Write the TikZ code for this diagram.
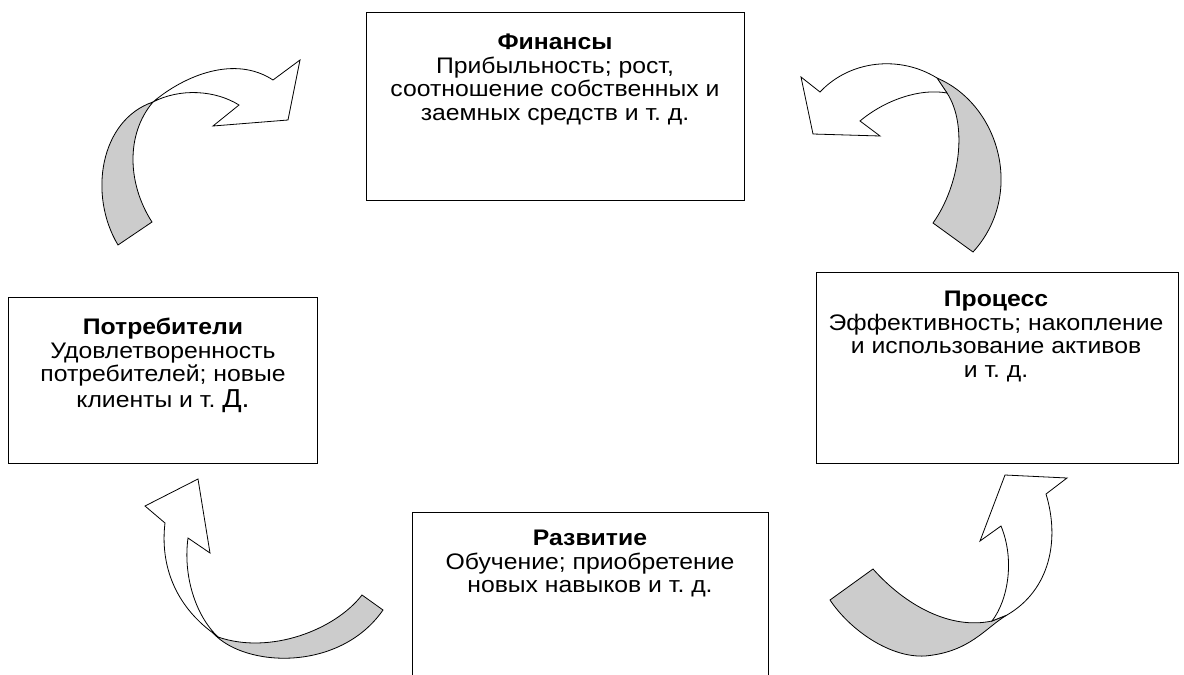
\documentclass[tikz,border=0pt]{standalone}
\usepackage{fontspec}
\setmainfont[FakeStretch=1.1]{Liberation Sans}
\definecolor{bandgray}{RGB}{204,204,204}
\frenchspacing
\begin{document}
\begin{tikzpicture}[x=1pt,y=-1pt,
  box/.style={draw, line width=1pt, fill=white, inner sep=0pt, anchor=north west},
  lbl/.style={font=\fontsize{22.5}{23.5}\selectfont, align=center, anchor=north, inner sep=0pt},
  band/.style={draw, line width=0.8pt, line join=miter, fill=#1},
]
\useasboundingbox (0,0) rectangle (1184,675);
\fill[white] (0,0) rectangle (1184,675);

% boxes
\node[box, minimum width=378pt, minimum height=188pt] (fin) at (366,12) {};
\node[box, minimum width=309pt, minimum height=166pt] (cons) at (8,297) {};
\node[box, minimum width=362pt, minimum height=191pt] (proc) at (816,272) {};
\node[box, minimum width=356pt, minimum height=200pt] (dev) at (412,512) {};

% texts
\node[lbl] (finT) at (555,34) {\textbf{Финансы}\\Прибыльность; рост,\\соотношение собственных и\\заемных средств и т. д.};
\node[lbl] (consT) at (163,318) {\textbf{Потребители}\\Удовлетворенность\\потребителей; новые\\[2pt]клиенты и т. {\fontsize{26}{24}\selectfont Д.}};
\node[lbl] (procT) at (996,291) {\textbf{Процесс}\\Эффективность; накопление\\и использование активов\\и т. д.};
\node[lbl] (devT) at (590,530) {\textbf{Развитие}\\Обучение; приобретение\\новых навыков и т. д.};

% arrow top-left
\draw[band=bandgray] (153,102) .. controls (100,120) and (88,195) .. (118,245) -- (152,222)
  .. controls (128,185) and (125,135) .. (153,102) -- cycle;
\draw[band=white] (153,102) .. controls (185,75) and (235,55) .. (273,80) -- (300,60) -- (288,120)
  -- (213,126) -- (239,105) .. controls (215,90) and (180,88) .. (153,102) -- cycle;

% arrow top-right
\draw[band=bandgray] (937,78) .. controls (1000,105) and (1025,195) .. (973,252) -- (933,223)
  .. controls (960,185) and (968,125) .. (947,93) -- cycle;
\draw[band=white] (937,78) .. controls (900,55) and (850,60) .. (820,92) -- (801,77) -- (813,134)
  -- (880,136) -- (860,121) .. controls (885,100) and (920,88) .. (947,93) -- cycle;

% arrow bottom-left
\draw[band=bandgray] (213,633) .. controls (245,668) and (340,672) .. (383,610) -- (362,595)
  .. controls (335,630) and (270,655) .. (218,637) -- cycle;
\draw[band=white] (213,633) .. controls (175,605) and (160,565) .. (165,523) -- (145,506) -- (198,479)
  -- (210,553) -- (188,538) .. controls (183,575) and (195,615) .. (218,637) -- cycle;

% arrow bottom-right
\draw[band=bandgray] (830,600) -- (873,569) .. controls (905,605) and (950,630) .. (992,621) -- (1007,615)
  .. controls (985,628) and (970,652) .. (925,656) .. controls (890,658) and (850,630) .. (830,600) -- cycle;
\draw[band=white] (1007,615) .. controls (1050,590) and (1060,540) .. (1046,494) -- (1067,478) -- (1005,475)
  -- (980,541) -- (1001,526) .. controls (1015,560) and (1008,600) .. (992,621) -- cycle;
\end{tikzpicture}
\end{document}
